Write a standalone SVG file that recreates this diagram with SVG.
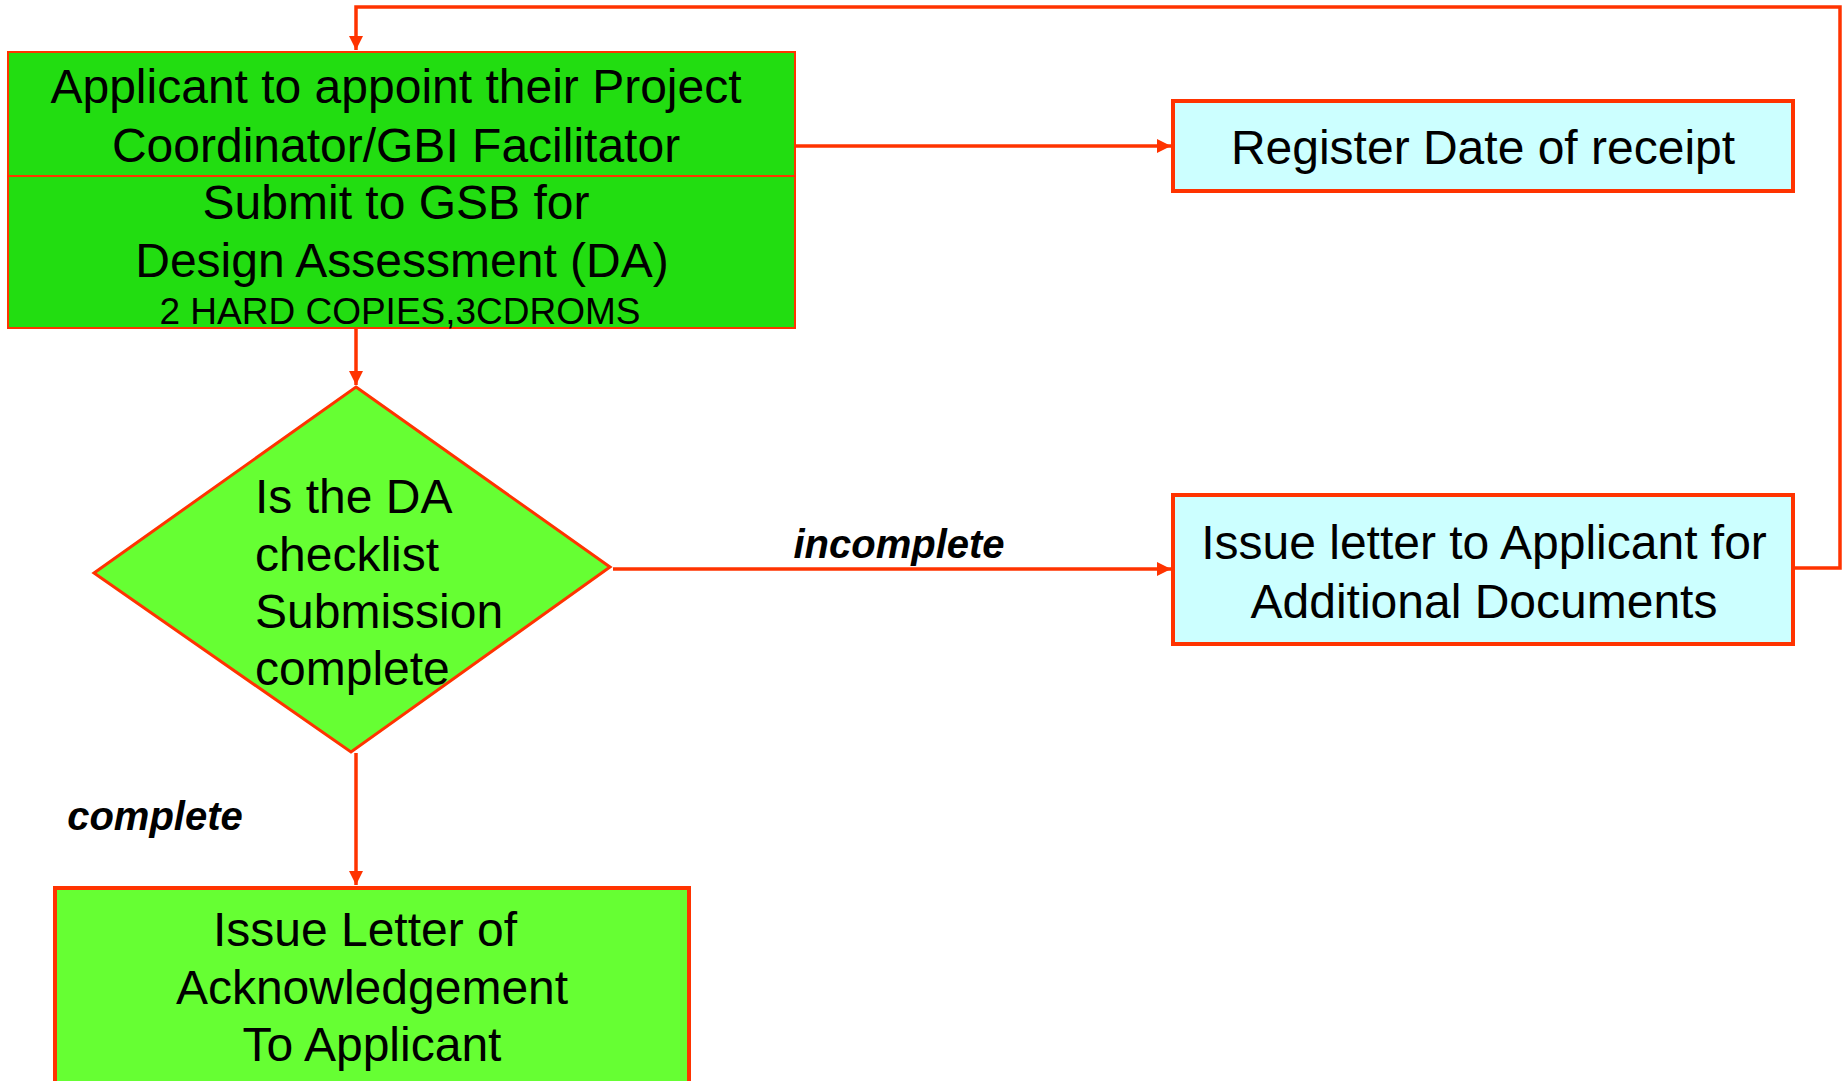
<svg xmlns="http://www.w3.org/2000/svg" width="1847" height="1081" viewBox="0 0 1847 1081">
<style>
.t{font-family:"Liberation Sans",Arial,sans-serif;font-size:48px;fill:#000;text-anchor:middle}
.s{font-size:37px}
.l{font-family:"Liberation Sans",Arial,sans-serif;font-size:40px;font-weight:bold;font-style:italic;fill:#000;text-anchor:middle}
.c{fill:none;stroke:#FF3300;stroke-width:3.5}
</style>
<defs>
<marker id="ah" viewBox="0 0 10 10" refX="10" refY="5" markerWidth="4" markerHeight="4" markerUnits="strokeWidth" orient="auto">
<path d="M0,0 L10,5 L0,10 z" fill="#FF3300"/>
</marker>
</defs>
<rect width="1847" height="1081" fill="#fff"/>
<g id="connectors">
<path class="c" d="M1793,568 H1840 V7 H356 V50" marker-end="url(#ah)"/>
<path class="c" d="M795,146 H1171" marker-end="url(#ah)"/>
<path class="c" d="M356,328 V385" marker-end="url(#ah)"/>
<path class="c" d="M613,569 H1171" marker-end="url(#ah)"/>
<path class="c" d="M356,753 V885" marker-end="url(#ah)"/>
<text class="l" x="899" y="558">incomplete</text>
<text class="l" x="155" y="830">complete</text>
</g>
<g id="node-submit">
<rect x="8" y="52" width="787" height="276" fill="#22DD11" stroke="#FF3300" stroke-width="2"/>
<line x1="8" y1="176" x2="795" y2="176" stroke="#FF3300" stroke-width="2"/>
<text class="t" x="396" y="103">Applicant to appoint their Project</text>
<text class="t" x="396" y="162">Coordinator/GBI Facilitator</text>
<text class="t" x="396" y="219">Submit to GSB for</text>
<text class="t" x="402" y="277">Design Assessment (DA)</text>
<text class="t s" x="400" y="324">2 HARD COPIES,3CDROMS</text>
</g>
<g id="node-register">
<rect x="1173" y="101" width="620" height="90" fill="#CCFFFF" stroke="#FF3300" stroke-width="4"/>
<text class="t" x="1483" y="164">Register Date of receipt</text>
</g>
<g id="node-decision">
<polygon points="356,387 610,567 351,752 94,573" fill="#66FF33" stroke="#FF3300" stroke-width="3"/>
<text class="t" style="text-anchor:start" x="255" y="513">Is the DA</text>
<text class="t" style="text-anchor:start" x="255" y="571">checklist</text>
<text class="t" style="text-anchor:start" x="255" y="628">Submission</text>
<text class="t" style="text-anchor:start" x="255" y="685">complete</text>
</g>
<g id="node-additional">
<rect x="1173" y="495" width="620" height="149" fill="#CCFFFF" stroke="#FF3300" stroke-width="4"/>
<text class="t" x="1484" y="559">Issue letter to Applicant for</text>
<text class="t" x="1484" y="618">Additional Documents</text>
</g>
<g id="node-ack">
<rect x="55" y="888" width="634" height="220" fill="#66FF33" stroke="#FF3300" stroke-width="4"/>
<text class="t" x="365" y="946">Issue Letter of</text>
<text class="t" x="372" y="1004">Acknowledgement</text>
<text class="t" x="372" y="1061">To Applicant</text>
</g>
</svg>
